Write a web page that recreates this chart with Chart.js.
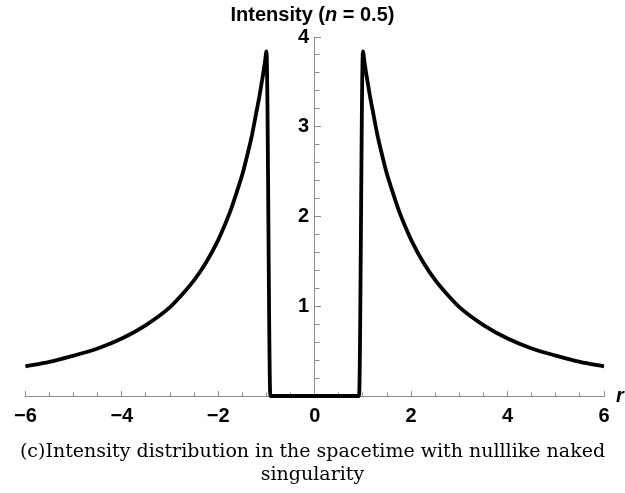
<!DOCTYPE html>
<html>
<head>
<meta charset="utf-8">
<script src="https://cdn.jsdelivr.net/npm/chart.js@4.4.1/dist/chart.umd.min.js"></script>
<style>
html,body{margin:0;padding:0;background:#fff;}
#wrap{position:relative;width:625px;height:493px;overflow:hidden;background:#fff;}
#c{position:absolute;left:0;top:0;}
.t{position:absolute;white-space:nowrap;color:#000;}
#title{left:0;width:625px;text-align:center;top:3px;line-height:20px;font:bold 20px "Liberation Sans",Arial,sans-serif;}
#rlab{left:616px;top:384px;line-height:20px;font:italic bold 20px "Liberation Sans",Arial,sans-serif;}
.cap{left:0;width:625px;text-align:center;line-height:23px;font:19px "DejaVu Serif",serif;}
#cap1{top:439px;}
#cap2{top:462px;}
</style>
</head>
<body>
<div id="wrap">
  <canvas id="c" width="625" height="493"></canvas>
  <div id="title" class="t">Intensity (<i>n</i> = 0.5)</div>
  <div id="rlab" class="t">r</div>
  <div id="cap1" class="t cap">(c)Intensity distribution in the spacetime with nulllike naked</div>
  <div id="cap2" class="t cap">singularity</div>
</div>
<script>
// Values
const rValues = [
  -6, -5.5, -5, -4.5, -4, -3.5, -3, -2.75, -2.5, -2.25, -2, -1.9, -1.75, -1.6, -1.5, -1.4, -1.3, -1.2, -1.15, -1.1, -1.06, -1.03, -1,
  -0.92, 0, 0.92,
  1, 1.03, 1.06, 1.1, 1.15, 1.2, 1.3, 1.4, 1.5, 1.6, 1.75, 1.9, 2, 2.25, 2.5, 2.75, 3, 3.5, 4, 4.5, 5, 5.5, 6
];
const intensity = [
  0.33, 0.38, 0.45, 0.53, 0.64, 0.79, 0.99, 1.13, 1.29, 1.49, 1.74, 1.86, 2.06, 2.30, 2.47, 2.68, 2.91, 3.19, 3.33, 3.49, 3.62, 3.73, 3.84,
  0, 0, 0,
  3.84, 3.73, 3.62, 3.49, 3.33, 3.19, 2.91, 2.68, 2.47, 2.30, 2.06, 1.86, 1.74, 1.49, 1.29, 1.13, 0.99, 0.79, 0.64, 0.53, 0.45, 0.38, 0.33
];
const xTickValues = [-6, -4, -2, 0, 2, 4, 6];
const yTickValues = [1, 2, 3, 4];

const axisGray = '#8c8c8c';
const tickFont = {family: '"Liberation Sans", Arial, sans-serif', size: 20, weight: 'bold'};

const points = rValues.map((r, i) => ({x: r, y: intensity[i]}));

new Chart(document.getElementById('c'), {
  type: 'scatter',
  data: {
    datasets: [{
      data: points,
      showLine: true,
      borderColor: '#000',
      borderWidth: 3.8,
      borderJoinStyle: 'miter',
      pointRadius: 0,
      cubicInterpolationMode: 'monotone',
      clip: false
    }]
  },
  options: {
    responsive: false,
    animation: false,
    events: [],
    layout: {padding: {left: 21, right: 21, top: 37, bottom: 97}},
    plugins: {legend: {display: false}, tooltip: {enabled: false}, title: {display: false}},
    scales: {
      x: {
        type: 'linear', position: {y: 0}, min: -6, max: 6,
        afterBuildTicks: s => { s.ticks = xTickValues.map(v => ({value: v})); },
        ticks: {
          font: tickFont, color: '#000', padding: 14, autoSkip: false, maxRotation: 0,
          callback: v => (v < 0 ? '\u2212' + Math.abs(v) : String(v))
        },
        grid: {drawOnChartArea: false, tickLength: -6, color: axisGray, tickWidth: 1},
        border: {color: axisGray, width: 1}
      },
      xMinor: {
        type: 'linear', axis: 'x', position: {y: 0}, min: -6, max: 6,
        ticks: {display: false, stepSize: 0.5, autoSkip: false},
        grid: {drawOnChartArea: false, tickLength: -3.5, color: axisGray, tickWidth: 1},
        border: {display: false}
      },
      y: {
        type: 'linear', position: {x: 0}, min: 0, max: 4,
        afterBuildTicks: s => { s.ticks = yTickValues.map(v => ({value: v})); },
        ticks: {
          font: tickFont, color: '#000', autoSkip: false,
          callback: v => String(v) + ' '
        },
        grid: {drawOnChartArea: false, tickLength: -7, color: axisGray, tickWidth: 1},
        border: {color: axisGray, width: 1}
      },
      yMinor: {
        type: 'linear', axis: 'y', position: {x: 0}, min: 0, max: 4,
        ticks: {display: false, stepSize: 0.2, autoSkip: false},
        grid: {drawOnChartArea: false, tickLength: -4.5, color: axisGray, tickWidth: 1},
        border: {display: false}
      }
    }
  }
});
</script>
</body>
</html>
